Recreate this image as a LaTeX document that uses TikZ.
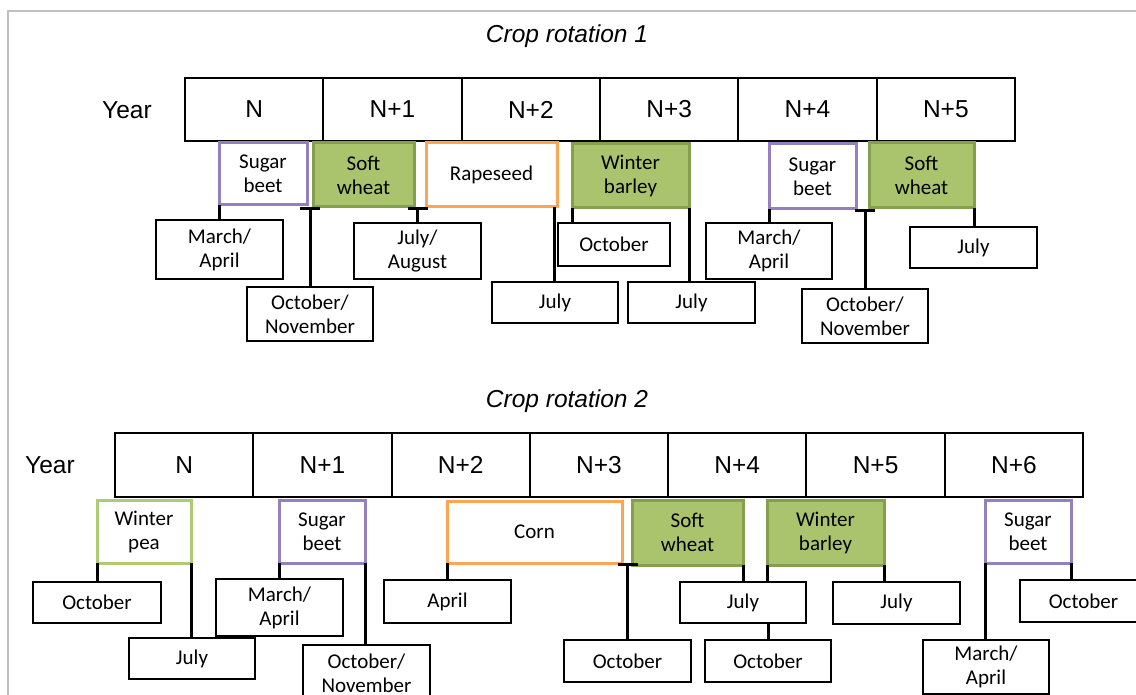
\documentclass[tikz,border=0pt]{standalone}
\usepackage{fontspec}
\setmainfont{Carlito}
\newfontfamily\arialf{Liberation Sans}
\usetikzlibrary{arrows.meta}
\definecolor{cgreen}{HTML}{AAC46E}
\definecolor{cgreendark}{HTML}{84A04E}
\definecolor{cpea}{HTML}{AECB72}
\definecolor{cpurple}{HTML}{9580BE}
\definecolor{corange}{HTML}{F9A655}
\definecolor{cframe}{HTML}{C0C0C0}
\begin{document}
\begin{tikzpicture}[x=1pt,y=-1pt,
  yearbox/.style={draw, line width=2pt, minimum height=63pt, minimum width=138.3pt, inner sep=0pt, outer sep=0pt, font=\arialf\fontsize{24.5}{28}\selectfont},
  yearlabel/.style={font=\arialf\fontsize{24.5}{28}\selectfont, inner sep=0pt},
  titlelabel/.style={font=\arialf\itshape\fontsize{24.5}{28}\selectfont, inner sep=0pt},
  crop/.style={line width=3pt, inner sep=0pt, outer sep=0pt, align=center, font=\fontsize{21}{24}\selectfont},
  purplebox/.style={crop, draw=cpurple, fill=white},
  orangebox/.style={crop, draw=corange, fill=white},
  greenbox/.style={crop, draw=cgreendark, fill=cgreen},
  peabox/.style={crop, draw=cpea, fill=white},
  month/.style={draw, line width=1.8pt, inner sep=0pt, outer sep=0pt, align=center, fill=white, font=\fontsize{21}{24}\selectfont},
  conn/.style={line width=3pt},
  tconn/.style={line width=3pt, {Bar[width=20pt]}-}
]
\useasboundingbox (0,0) rectangle (1136,695);
% frame
\coordinate (fbl) at (8,700);
\coordinate (ftl) at (8,11);
\coordinate (ftr) at (1140,11);
\draw[cframe, line width=1.5pt] (fbl) -- (ftl) -- (ftr);

% ---------------- Crop rotation 1 ----------------
\node[titlelabel] (t1) at (567,36) {Crop rotation 1};
\node[yearlabel] (yl1) at (127,110) {Year};
\foreach \t [count=\i from 0] in {N,N+1,N+2,N+3,N+4,N+5}
  \node[yearbox] (a\i) at ({254.2+138.33*\i},109.5) {\t};

\node[purplebox, minimum width=88pt, minimum height=62pt] (sb1) at (263,174) {Sugar\\beet};
\node[greenbox, minimum width=101pt, minimum height=64pt] (sw1) at (363.5,175) {Soft\\wheat};
\node[orangebox, minimum width=131pt, minimum height=64pt] (rs) at (491.5,175) {Rapeseed};
\node[greenbox, minimum width=117pt, minimum height=64pt] (wb1) at (630.5,176) {Winter\\barley};
\node[purplebox, minimum width=87pt, minimum height=65pt] (sb2) at (812.5,176.5) {Sugar\\beet};
\node[greenbox, minimum width=105pt, minimum height=65pt] (sw2) at (921.5,175.5) {Soft\\wheat};

\node[month, minimum width=127pt, minimum height=59pt] (ma1) at (219.5,249.5) {March/\\April};
\node[month, minimum width=126pt, minimum height=54pt] (on1) at (310,314) {October/\\November};
\node[month, minimum width=127pt, minimum height=56pt] (ja) at (417.5,251) {July/\\August};
\node[month, minimum width=126pt, minimum height=41pt] (jl1) at (555,302.5) {July};
\node[month, minimum width=112pt, minimum height=43pt] (oc1) at (614,244.5) {October};
\node[month, minimum width=127pt, minimum height=41pt] (jl2) at (691.5,302.5) {July};
\node[month, minimum width=126pt, minimum height=56pt] (ma2) at (769,251) {March/\\April};
\node[month, minimum width=126pt, minimum height=54pt] (on2) at (865,316) {October/\\November};
\node[month, minimum width=127pt, minimum height=41pt] (jl3) at (973.5,247.5) {July};

\draw[conn] (sb1.south west) -- (sb1.south west |- ma1.north);
\draw[tconn] (on1.north |- sw1.south) -- (on1.north);
\draw[tconn] (ja.north |- sw1.south) -- (ja.north);
\draw[conn] ([xshift=-3pt]rs.south east) -- ([xshift=-3pt]rs.south east |- jl1.north);
\draw[conn] (wb1.south west) -- (wb1.south west |- oc1.north);
\draw[conn] (wb1.south east) -- (wb1.south east |- jl2.north);
\draw[conn] (sb2.south west) -- (sb2.south west |- ma2.north);
\draw[tconn] (on2.north |- sb2.south) -- (on2.north);
\draw[conn] (sw2.south east) -- (sw2.south east |- jl3.north);

% ---------------- Crop rotation 2 ----------------
\node[titlelabel] (t2) at (567,401) {Crop rotation 2};
\node[yearlabel] (yl2) at (50,465) {Year};
\foreach \t [count=\i from 0] in {N,N+1,N+2,N+3,N+4,N+5,N+6}
  \node[yearbox, minimum height=64pt] (b\i) at ({184.1+138.3*\i},465) {\t};

\node[peabox, minimum width=94pt, minimum height=63pt] (wp) at (144,531.5) {Winter\\pea};
\node[purplebox, minimum width=86pt, minimum height=63pt] (sb3) at (322,531.5) {Sugar\\beet};
\node[orangebox, minimum width=175pt, minimum height=62pt] (corn) at (534.5,532) {Corn};
\node[greenbox, minimum width=111pt, minimum height=65pt] (sw3) at (687.5,532.5) {Soft\\wheat};
\node[greenbox, minimum width=117pt, minimum height=65pt] (wb2) at (825.5,532.5) {Winter\\barley};
\node[purplebox, minimum width=86pt, minimum height=63pt] (sb4) at (1028,531.5) {Sugar\\beet};

\node[month, minimum width=128pt, minimum height=41pt] (oc2) at (97,602.5) {October};
\node[month, minimum width=126pt, minimum height=41pt] (jl4) at (192,658.5) {July};
\node[month, minimum width=127pt, minimum height=57pt] (ma3) at (279.5,607.5) {March/\\April};
\node[month, minimum width=127pt, minimum height=56pt] (on3) at (366.5,673) {October/\\November};
\node[month, minimum width=127pt, minimum height=43pt] (ap) at (447.5,601.5) {April};
\node[month, minimum width=127pt, minimum height=42pt] (oc3) at (627.5,661) {October};
\node[month, minimum width=126pt, minimum height=41pt] (jl5) at (743,602.5) {July};
\node[month, minimum width=126pt, minimum height=42pt] (oc4) at (768,661) {October};
\node[month, minimum width=127pt, minimum height=42pt] (jl6) at (896.5,603) {July};
\node[month, minimum width=127pt, minimum height=42pt] (oc5) at (1083.5,601) {October};
\node[month, minimum width=126pt, minimum height=54pt] (ma4) at (986,667) {March/\\April};

\draw[conn] (wp.south west) -- (wp.south west |- oc2.north);
\draw[conn] (wp.south east) -- (wp.south east |- jl4.north);
\draw[conn] (sb3.south west) -- (sb3.south west |- ma3.north);
\draw[conn] (sb3.south east) -- (sb3.south east |- on3.north);
\draw[conn] (corn.south west) -- (corn.south west |- ap.north);
\draw[tconn] (oc3.north |- corn.south) -- (oc3.north);
\draw[conn] (sw3.south east) -- (sw3.south east |- jl5.north);
\draw[conn] (wb2.south west) -- (wb2.south west |- jl5.north);
\draw[conn] (jl5.south -| oc4.north) -- (oc4.north);
\draw[conn] (wb2.south east) -- (wb2.south east |- jl6.north);
\draw[conn] (sb4.south west) -- (sb4.south west |- ma4.north);
\draw[conn] (sb4.south east) -- (sb4.south east |- oc5.north);
\end{tikzpicture}
\end{document}
